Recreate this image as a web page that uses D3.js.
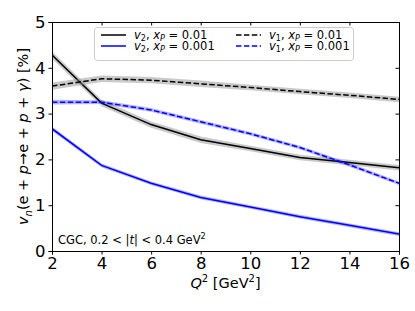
<!DOCTYPE html>
<html>
<head>
<meta charset="utf-8">
<script src="https://cdn.jsdelivr.net/npm/d3@7"></script>
<style>
body { margin: 0; background: #fff; }
svg text { font-family: "DejaVu Sans", sans-serif; }
</style>
</head>
<body>
<div id="chart"></div>
<script>
// Q^2 grid and the four curves (values in %)
var q2 = [2, 4, 6, 8, 10, 12, 14, 16];
var v2_x01 = [4.28, 3.23, 2.76, 2.43, 2.24, 2.04, 1.93, 1.82];
var v2_x001 = [2.67, 1.87, 1.48, 1.17, 0.96, 0.75, 0.56, 0.37];
var v1_x01 = [3.60, 3.76, 3.73, 3.65, 3.57, 3.48, 3.40, 3.31];
var v1_x001 = [3.25, 3.25, 3.08, 2.82, 2.56, 2.26, 1.88, 1.48];
var err_x01 = [0.08, 0.07, 0.07, 0.07, 0.06, 0.06, 0.06, 0.06];
var err_x001 = [0.05, 0.04, 0.04, 0.04, 0.04, 0.04, 0.04, 0.04];
var xTicks = [2, 4, 6, 8, 10, 12, 14, 16];
var yTicks = [0, 1, 2, 3, 4, 5];

var W = 415, H = 311;
var m = {left: 52, right: 16, top: 22, bottom: 60};

var svg = d3.select("#chart").append("svg")
    .attr("width", W)
    .attr("height", H);

var x = d3.scaleLinear().domain([2, 16]).range([m.left, W - m.right]);
var y = d3.scaleLinear().domain([0, 5]).range([H - m.bottom, m.top]);

var series = [
    {vals: v2_x01, err: err_x01, color: "#000", band: "#888", dash: null, name: "v2", xp: "0.01"},
    {vals: v2_x001, err: err_x001, color: "#0000ff", band: "#0000ff", dash: null, name: "v2", xp: "0.001"},
    {vals: v1_x01, err: err_x01, color: "#000", band: "#888", dash: "5.5,2.4", name: "v1", xp: "0.01"},
    {vals: v1_x001, err: err_x001, color: "#0000ff", band: "#0000ff", dash: "5.5,2.4", name: "v1", xp: "0.001"}
];

var area = d3.area()
    .x(function(d) { return x(d.q); })
    .y0(function(d) { return y(d.v - d.e); })
    .y1(function(d) { return y(d.v + d.e); });

var line = d3.line()
    .x(function(d) { return x(d.q); })
    .y(function(d) { return y(d.v); });

var plot = svg.append("g");
plot.append("clipPath").attr("id", "clip").append("rect")
    .attr("x", m.left).attr("y", m.top)
    .attr("width", W - m.left - m.right).attr("height", H - m.top - m.bottom);

series.forEach(function(s) {
    var pts = q2.map(function(q, i) { return {q: q, v: s.vals[i], e: s.err[i]}; });
    plot.append("path")
        .attr("clip-path", "url(#clip)")
        .attr("d", area(pts))
        .attr("fill", s.band)
        .attr("opacity", s.color == "#000" ? 0.45 : 0.3);
    plot.append("path")
        .attr("clip-path", "url(#clip)")
        .attr("d", line(pts))
        .attr("fill", "none")
        .attr("stroke", s.color)
        .attr("stroke-width", 1.5)
        .attr("stroke-dasharray", s.dash);
});

// axes
svg.append("g")
    .attr("transform", "translate(0," + (H - m.bottom) + ")")
    .call(d3.axisBottom(x).tickValues(xTicks).tickSize(3.5).tickPadding(3).tickFormat(d3.format("d")));
svg.append("g")
    .attr("transform", "translate(" + m.left + ",0)")
    .call(d3.axisLeft(y).tickValues(yTicks).tickSize(3.5).tickPadding(3).tickFormat(d3.format("d")));
svg.append("g")
    .attr("transform", "translate(" + (W - m.right) + ",0)")
    .call(d3.axisRight(y).tickValues(yTicks).tickSize(-3.5).tickFormat(""));
svg.append("g")
    .attr("transform", "translate(0," + m.top + ")")
    .call(d3.axisTop(x).tickValues(xTicks).tickSize(-3.5).tickFormat(""));

svg.selectAll(".domain").attr("stroke", "#000").attr("stroke-width", 1);
svg.selectAll(".tick line").attr("stroke", "#000").attr("stroke-width", 1);
svg.selectAll(".tick text")
    .attr("fill", "#000")
    .style("font-size", "16.5px")
    .style("font-family", "DejaVu Sans, sans-serif");

// axis labels
var xl = svg.append("text")
    .attr("x", (m.left + W - m.right) / 2)
    .attr("y", 288)
    .attr("text-anchor", "middle")
    .style("font-size", "14.5px");
xl.append("tspan").style("font-style", "italic").text("Q");
xl.append("tspan").attr("dy", -6).style("font-size", "10px").text("2");
xl.append("tspan").attr("dy", 6).text(" [GeV");
xl.append("tspan").attr("dy", -6).style("font-size", "10px").text("2");
xl.append("tspan").attr("dy", 6).text("]");

var yl = svg.append("text")
    .attr("transform", "translate(28," + (m.top + (H - m.top - m.bottom) / 2) + ") rotate(-90)")
    .attr("text-anchor", "middle")
    .style("font-size", "14.5px");
yl.append("tspan").style("font-style", "italic").text("v");
yl.append("tspan").attr("dy", 4).style("font-size", "10px").style("font-style", "italic").text("n");
yl.append("tspan").attr("dy", -4).text("(e + ");
yl.append("tspan").style("font-style", "italic").text("p");
yl.append("tspan").text("\u2192e + ");
yl.append("tspan").style("font-style", "italic").text("p");
yl.append("tspan").text(" + ");
yl.append("tspan").style("font-style", "italic").text("\u03b3");
yl.append("tspan").text(") [%]");

// annotation
var ann = svg.append("text")
    .attr("x", 58)
    .attr("y", 244)
    .style("font-size", "11.5px");
ann.append("tspan").text("CGC, 0.2 < |");
ann.append("tspan").style("font-style", "italic").text("t");
ann.append("tspan").text("| < 0.4 GeV");
ann.append("tspan").attr("dy", -5).style("font-size", "8px").text("2");

// legend
var lg = svg.append("g");
lg.append("rect")
    .attr("x", 94.5).attr("y", 27.5)
    .attr("width", 259).attr("height", 33)
    .attr("rx", 3)
    .attr("fill", "#fff").attr("fill-opacity", 0.8)
    .attr("stroke", "#ccc");

series.forEach(function(s, i) {
    var col = i < 2 ? 0 : 1;
    var row = i % 2;
    var lx = col == 0 ? 101 : 236;
    var ly = 35 + row * 11;
    lg.append("line")
        .attr("x1", lx).attr("x2", lx + 25)
        .attr("y1", ly).attr("y2", ly)
        .attr("stroke", s.color)
        .attr("stroke-width", 1.5)
        .attr("stroke-dasharray", s.dash);
    var t = lg.append("text")
        .attr("x", lx + 33)
        .attr("y", ly + 4)
        .style("font-size", "11.5px");
    t.append("tspan").style("font-style", "italic").text("v");
    t.append("tspan").attr("dy", 2).style("font-size", "8px").text(s.name.slice(1));
    t.append("tspan").attr("dy", -2).text(", ");
    t.append("tspan").style("font-style", "italic").text("x");
    t.append("tspan").attr("dy", 2).style("font-size", "8px").style("font-style", "italic").text("P");
    t.append("tspan").attr("dy", -2).text(" = " + s.xp);
});
</script>
</body>
</html>
